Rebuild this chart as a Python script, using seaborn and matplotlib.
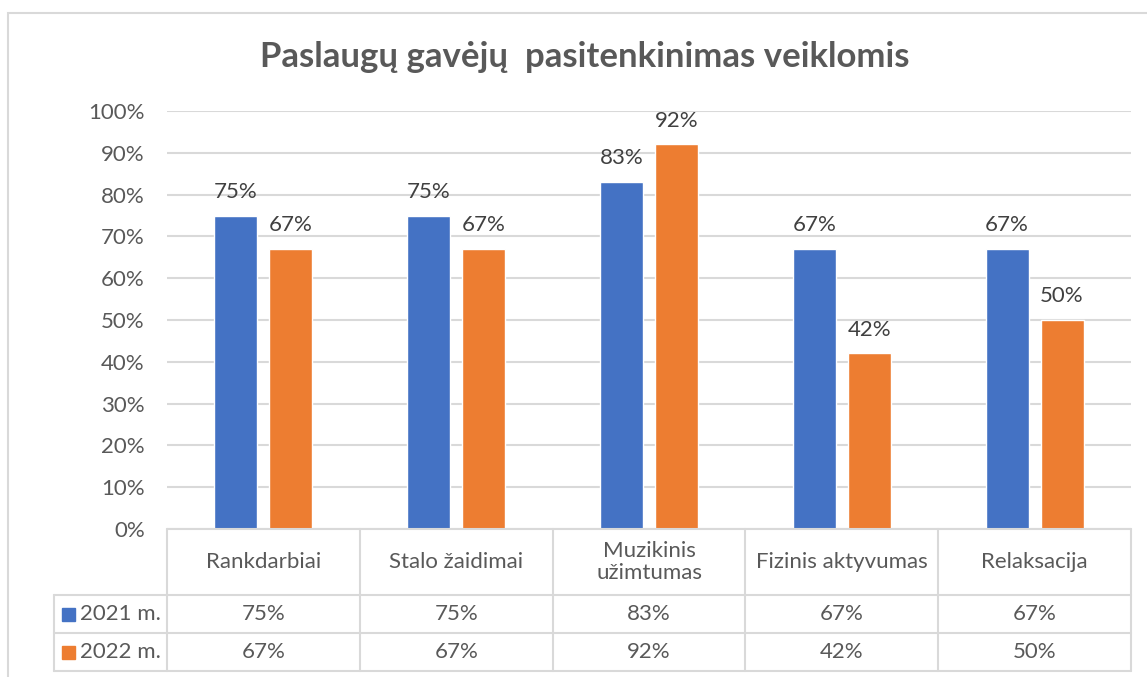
import matplotlib
matplotlib.use("Agg")
import matplotlib.pyplot as plt
import pandas as pd
import seaborn as sns
from matplotlib.patches import Rectangle

categories = ["Rankdarbiai", "Stalo žaidimai", "Muzikinis\nužimtumas", "Fizinis aktyvumas", "Relaksacija"]
series_names = ["2021 m.", "2022 m."]
values_2021 = [75, 75, 83, 67, 67]
values_2022 = [67, 67, 92, 42, 50]
yticks = [0, 10, 20, 30, 40, 50, 60, 70, 80, 90, 100]
title = "Paslaugų gavėjų  pasitenkinimas veiklomis"

BLUE = "#4472C4"
ORANGE = "#ED7D31"
TEXT = "#595959"
LINE = "#D9D9D9"

W, H = 1147, 677
FS = 16


def fx(px):
    return px / W


def fy(py):
    return 1 - py / H


def main() -> None:
    sns.set_theme(style="white")
    plt.rcParams["font.family"] = ["Lato", "DejaVu Sans"]

    df = pd.DataFrame({
        "category": categories * 2,
        "series": [series_names[0]] * len(categories) + [series_names[1]] * len(categories),
        "value": values_2021 + values_2022,
    })

    fig = plt.figure(figsize=(W / 100, H / 100), dpi=100)

    # outer chart border (cut off at right/bottom)
    fig.patches.append(Rectangle((fx(8), fy(700)), fx(1160 - 8), fy(13) - fy(700),
                                 transform=fig.transFigure, fill=False,
                                 edgecolor=LINE, lw=1.5))

    plot_left, plot_right = 167, 1131
    y0, y100 = 529, 111
    ax = fig.add_axes([fx(plot_left), fy(y0), fx(plot_right - plot_left), fy(y100) - fy(y0)])

    sns.barplot(data=df, x="category", y="value", hue="series", order=categories,
                hue_order=series_names, palette=[BLUE, ORANGE], width=0.57, gap=0.22,
                saturation=1, legend=False, ax=ax)

    ax.set_xlim(-0.5, len(categories) - 0.5)
    ax.set_ylim(0, 100)
    ax.set_yticks(yticks)
    ax.set_yticklabels([f"{t}%" for t in yticks], color=TEXT, fontsize=FS)
    ax.tick_params(axis="y", length=0, pad=16)
    ax.set_xticks([])
    ax.set_xlabel("")
    ax.set_ylabel("")
    for s in ax.spines.values():
        s.set_visible(False)
    ax.grid(axis="y", color=LINE, lw=1.5)
    ax.set_axisbelow(True)

    for cont in ax.containers:
        ax.bar_label(cont, labels=[f"{v:.0f}%" for v in cont.datavalues],
                     padding=10, color="#404040", fontsize=FS)

    fig.text(fx(585), fy(57), title, ha="center", va="center", fontsize=25,
             fontweight="bold", color=TEXT)

    # data table below the plot, sharing the category x scale
    tab_top, hdr_bot, row1_bot, tab_bot = 529, 595, 633, 671
    leg_left = 54
    unit = (plot_right - plot_left) / len(categories)
    x_left = -0.5 - (plot_left - leg_left) / unit
    tab = fig.add_axes([fx(leg_left), fy(tab_bot), fx(plot_right - leg_left), fy(tab_top) - fy(tab_bot)])
    tab.set_xlim(x_left, len(categories) - 0.5)
    tab.set_ylim(tab_bot, tab_top)
    tab.axis("off")
    lw = 1.5
    tab.plot([-0.5, len(categories) - 0.5], [tab_top, tab_top], color=LINE, lw=lw, clip_on=False)
    for yy in [hdr_bot, row1_bot, tab_bot]:
        tab.plot([x_left, len(categories) - 0.5], [yy, yy], color=LINE, lw=lw, clip_on=False)
    tab.plot([x_left, x_left], [hdr_bot, tab_bot], color=LINE, lw=lw, clip_on=False)
    for i in range(len(categories) + 1):
        tab.plot([i - 0.5, i - 0.5], [tab_top, tab_bot], color=LINE, lw=lw, clip_on=False)

    for i, cat in enumerate(categories):
        tab.text(i, (tab_top + hdr_bot) / 2, cat, ha="center", va="center",
                 color=TEXT, fontsize=FS, linespacing=1.15)
        tab.text(i, (hdr_bot + row1_bot) / 2, f"{values_2021[i]}%", ha="center",
                 va="center", color=TEXT, fontsize=FS)
        tab.text(i, (row1_bot + tab_bot) / 2, f"{values_2022[i]}%", ha="center",
                 va="center", color=TEXT, fontsize=FS)

    # legend keys inside the table
    sq = 13
    for (top, bot), name, col in zip([(hdr_bot, row1_bot), (row1_bot, tab_bot)], series_names, [BLUE, ORANGE]):
        ymid = (top + bot) / 2
        fig.patches.append(Rectangle((fx(62), fy(ymid + sq / 2)), fx(sq), fy(ymid - sq / 2) - fy(ymid + sq / 2),
                                     transform=fig.transFigure, color=col))
        fig.text(fx(80), fy(ymid), name, ha="left", va="center", color=TEXT, fontsize=FS)

    fig.savefig("out.png", dpi=100, facecolor="white")
    plt.close(fig)


if __name__ == "__main__":
    main()
